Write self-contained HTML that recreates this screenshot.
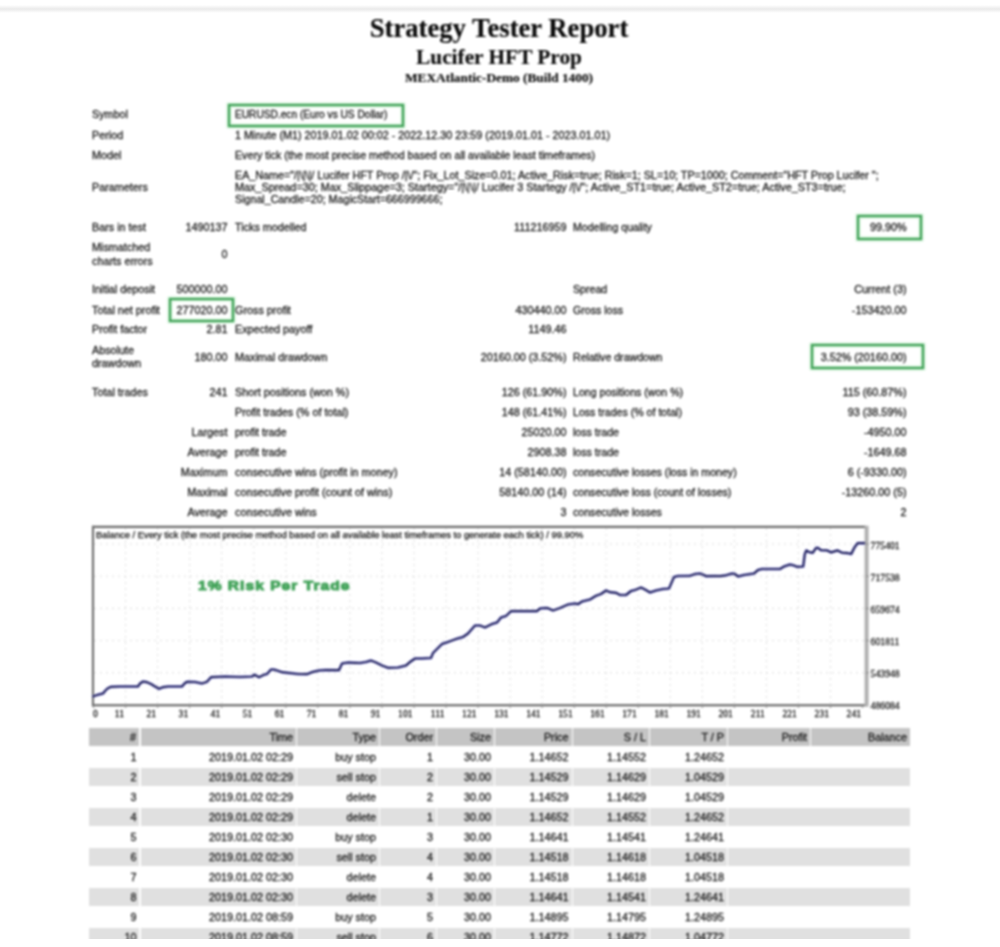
<!DOCTYPE html>
<html><head><meta charset="utf-8"><title>Strategy Tester: Lucifer HFT Prop</title>
<style>
html,body{margin:0;padding:0;background:#fff;}
body{width:1000px;height:947px;position:relative;overflow:hidden;font-family:"Liberation Sans",sans-serif;}
#wrap{position:absolute;left:0;top:0;width:1000px;height:947px;filter:blur(1px);}
.t{position:absolute;white-space:nowrap;line-height:13px;height:13px;color:#151515;-webkit-text-stroke:0.28px #151515;}
.bar{position:absolute;left:0;width:1000px;top:5.2px;height:7.6px;background:linear-gradient(to bottom,rgba(232,232,232,0) 0%,#ececec 45%,#ececec 55%,rgba(232,232,232,0) 100%);}
.h{position:absolute;left:0;width:1000px;text-align:center;font-family:"Liberation Serif",serif;font-weight:bold;color:#0a0a0a;white-space:nowrap;-webkit-text-stroke:0.15px #0a0a0a;}
.box{position:absolute;border:2.4px solid #3a9d52;box-sizing:border-box;box-shadow:0 0 1.5px 1px rgba(110,205,130,0.55),inset 0 0 1.5px 1px rgba(110,205,130,0.55);}
.cell{position:absolute;}
.cut{position:absolute;left:0;top:939px;width:1000px;height:8px;background:#fff;}
</style></head><body>
<div class="bar"></div>
<svg style="position:absolute;left:0;top:0;filter:blur(1px)" width="1000" height="947" viewBox="0 0 1000 947">
<line x1="125.6" y1="528" x2="125.6" y2="704" stroke="#dcdcdc" stroke-width="1" stroke-dasharray="2,4"/>
<line x1="157.6" y1="528" x2="157.6" y2="704" stroke="#dcdcdc" stroke-width="1" stroke-dasharray="2,4"/>
<line x1="189.7" y1="528" x2="189.7" y2="704" stroke="#dcdcdc" stroke-width="1" stroke-dasharray="2,4"/>
<line x1="221.7" y1="528" x2="221.7" y2="704" stroke="#dcdcdc" stroke-width="1" stroke-dasharray="2,4"/>
<line x1="253.8" y1="528" x2="253.8" y2="704" stroke="#dcdcdc" stroke-width="1" stroke-dasharray="2,4"/>
<line x1="285.8" y1="528" x2="285.8" y2="704" stroke="#dcdcdc" stroke-width="1" stroke-dasharray="2,4"/>
<line x1="317.8" y1="528" x2="317.8" y2="704" stroke="#dcdcdc" stroke-width="1" stroke-dasharray="2,4"/>
<line x1="349.9" y1="528" x2="349.9" y2="704" stroke="#dcdcdc" stroke-width="1" stroke-dasharray="2,4"/>
<line x1="381.9" y1="528" x2="381.9" y2="704" stroke="#dcdcdc" stroke-width="1" stroke-dasharray="2,4"/>
<line x1="414.0" y1="528" x2="414.0" y2="704" stroke="#dcdcdc" stroke-width="1" stroke-dasharray="2,4"/>
<line x1="446.0" y1="528" x2="446.0" y2="704" stroke="#dcdcdc" stroke-width="1" stroke-dasharray="2,4"/>
<line x1="478.0" y1="528" x2="478.0" y2="704" stroke="#dcdcdc" stroke-width="1" stroke-dasharray="2,4"/>
<line x1="510.1" y1="528" x2="510.1" y2="704" stroke="#dcdcdc" stroke-width="1" stroke-dasharray="2,4"/>
<line x1="542.1" y1="528" x2="542.1" y2="704" stroke="#dcdcdc" stroke-width="1" stroke-dasharray="2,4"/>
<line x1="574.2" y1="528" x2="574.2" y2="704" stroke="#dcdcdc" stroke-width="1" stroke-dasharray="2,4"/>
<line x1="606.2" y1="528" x2="606.2" y2="704" stroke="#dcdcdc" stroke-width="1" stroke-dasharray="2,4"/>
<line x1="638.2" y1="528" x2="638.2" y2="704" stroke="#dcdcdc" stroke-width="1" stroke-dasharray="2,4"/>
<line x1="670.3" y1="528" x2="670.3" y2="704" stroke="#dcdcdc" stroke-width="1" stroke-dasharray="2,4"/>
<line x1="702.3" y1="528" x2="702.3" y2="704" stroke="#dcdcdc" stroke-width="1" stroke-dasharray="2,4"/>
<line x1="734.4" y1="528" x2="734.4" y2="704" stroke="#dcdcdc" stroke-width="1" stroke-dasharray="2,4"/>
<line x1="766.4" y1="528" x2="766.4" y2="704" stroke="#dcdcdc" stroke-width="1" stroke-dasharray="2,4"/>
<line x1="798.4" y1="528" x2="798.4" y2="704" stroke="#dcdcdc" stroke-width="1" stroke-dasharray="2,4"/>
<line x1="830.5" y1="528" x2="830.5" y2="704" stroke="#dcdcdc" stroke-width="1" stroke-dasharray="2,4"/>
<line x1="94" y1="544" x2="865" y2="544" stroke="#dcdcdc" stroke-width="1" stroke-dasharray="2,4"/>
<line x1="94" y1="576.2" x2="865" y2="576.2" stroke="#dcdcdc" stroke-width="1" stroke-dasharray="2,4"/>
<line x1="94" y1="608.4" x2="865" y2="608.4" stroke="#dcdcdc" stroke-width="1" stroke-dasharray="2,4"/>
<line x1="94" y1="640.6" x2="865" y2="640.6" stroke="#dcdcdc" stroke-width="1" stroke-dasharray="2,4"/>
<line x1="94" y1="672.8" x2="865" y2="672.8" stroke="#dcdcdc" stroke-width="1" stroke-dasharray="2,4"/>
<line x1="93" y1="525.8" x2="93" y2="706.4" stroke="#6a6a6a" stroke-width="2.1"/>
<line x1="92" y1="526.9" x2="866" y2="526.9" stroke="#6a6a6a" stroke-width="2.1"/>
<line x1="92" y1="705.3" x2="868" y2="705.3" stroke="#5e5e5e" stroke-width="2.1"/>
<line x1="866.6" y1="525.8" x2="866.6" y2="706.4" stroke="#b0b0b0" stroke-width="4"/>
<line x1="125.6" y1="705" x2="125.6" y2="708" stroke="#888" stroke-width="1"/>
<line x1="157.6" y1="705" x2="157.6" y2="708" stroke="#888" stroke-width="1"/>
<line x1="189.7" y1="705" x2="189.7" y2="708" stroke="#888" stroke-width="1"/>
<line x1="221.7" y1="705" x2="221.7" y2="708" stroke="#888" stroke-width="1"/>
<line x1="253.8" y1="705" x2="253.8" y2="708" stroke="#888" stroke-width="1"/>
<line x1="285.8" y1="705" x2="285.8" y2="708" stroke="#888" stroke-width="1"/>
<line x1="317.8" y1="705" x2="317.8" y2="708" stroke="#888" stroke-width="1"/>
<line x1="349.9" y1="705" x2="349.9" y2="708" stroke="#888" stroke-width="1"/>
<line x1="381.9" y1="705" x2="381.9" y2="708" stroke="#888" stroke-width="1"/>
<line x1="414.0" y1="705" x2="414.0" y2="708" stroke="#888" stroke-width="1"/>
<line x1="446.0" y1="705" x2="446.0" y2="708" stroke="#888" stroke-width="1"/>
<line x1="478.0" y1="705" x2="478.0" y2="708" stroke="#888" stroke-width="1"/>
<line x1="510.1" y1="705" x2="510.1" y2="708" stroke="#888" stroke-width="1"/>
<line x1="542.1" y1="705" x2="542.1" y2="708" stroke="#888" stroke-width="1"/>
<line x1="574.2" y1="705" x2="574.2" y2="708" stroke="#888" stroke-width="1"/>
<line x1="606.2" y1="705" x2="606.2" y2="708" stroke="#888" stroke-width="1"/>
<line x1="638.2" y1="705" x2="638.2" y2="708" stroke="#888" stroke-width="1"/>
<line x1="670.3" y1="705" x2="670.3" y2="708" stroke="#888" stroke-width="1"/>
<line x1="702.3" y1="705" x2="702.3" y2="708" stroke="#888" stroke-width="1"/>
<line x1="734.4" y1="705" x2="734.4" y2="708" stroke="#888" stroke-width="1"/>
<line x1="766.4" y1="705" x2="766.4" y2="708" stroke="#888" stroke-width="1"/>
<line x1="798.4" y1="705" x2="798.4" y2="708" stroke="#888" stroke-width="1"/>
<line x1="830.5" y1="705" x2="830.5" y2="708" stroke="#888" stroke-width="1"/>
<line x1="93.6" y1="705" x2="93.6" y2="708" stroke="#888" stroke-width="1"/>
<line x1="862.5" y1="705" x2="862.5" y2="708" stroke="#888" stroke-width="1"/>
<line x1="866" y1="544" x2="869" y2="544" stroke="#888" stroke-width="1"/>
<line x1="866" y1="576.2" x2="869" y2="576.2" stroke="#888" stroke-width="1"/>
<line x1="866" y1="608.4" x2="869" y2="608.4" stroke="#888" stroke-width="1"/>
<line x1="866" y1="640.6" x2="869" y2="640.6" stroke="#888" stroke-width="1"/>
<line x1="866" y1="672.8" x2="869" y2="672.8" stroke="#888" stroke-width="1"/>
<polyline points="92.5,697 93,696.5 97,695 103,693.5 105,691 107.5,688.5 111,686.8 120,686.5 138,686.5 140,683.5 143,681.5 147,682.2 151,684 155,686.5 159,688.8 163,687.2 168,686.5 182,686.5 184.5,683.5 187,681.8 195,682 202,683.5 207,681.8 211,677.2 225,676.5 240,677 252,676.5 254.5,674.8 259,677.2 264,674.8 267,674 271,669.5 273,669.5 275,669.8 282,672.2 298,674 307,674.2 312,672.2 319,670.5 326,670 339,670.2 342,663.5 348,662.5 355,662.8 360,663 366,662 371,660.5 376,662.5 382,665.5 388,667.8 398,667.5 406,665.5 410,662 415,658.5 422,658.5 431,658 433,653 437,649 442,644 448,642 456,639 463,637 468,633.5 475,625.5 480,625.5 485,627.5 492,624 497,622.5 501,617.5 506,616 511,611.2 537,611.2 540,608.5 546,608 548,608.2 553,610.5 560,608 568,604.5 575,603.5 578,604.2 582,601.5 590,599.5 596,595.8 601,594 606,590.5 610,592.2 616,592.8 620,595 626,595 631,591 635,590 641,587.5 645,589.5 650,592.5 656,590.5 663,589 669,588.5 671,584 674,577 678,576 690,575.8 695,574 700,573.5 704,575 706,576.2 715,576 720,576.1 726,575.3 732,573.5 735,574 738,576.5 744,575 754,573.5 758,570 762,569 780,569 784,566.5 790,564.5 794,565.5 797,566.8 803.2,566.5 804.8,554 806.4,550.4 808.8,552 812.8,552.8 816,548 818,547.8 820.8,550.2 827.2,550.4 831.2,552.4 833.6,551.6 837.6,550.4 841.6,552.6 848,553.2 851.2,554 854.4,547.6 857.6,543.2 865,543.2" fill="none" stroke="#9696e2" stroke-width="2.9" stroke-linejoin="round"/>
<polyline points="92.5,697 93,696.5 97,695 103,693.5 105,691 107.5,688.5 111,686.8 120,686.5 138,686.5 140,683.5 143,681.5 147,682.2 151,684 155,686.5 159,688.8 163,687.2 168,686.5 182,686.5 184.5,683.5 187,681.8 195,682 202,683.5 207,681.8 211,677.2 225,676.5 240,677 252,676.5 254.5,674.8 259,677.2 264,674.8 267,674 271,669.5 273,669.5 275,669.8 282,672.2 298,674 307,674.2 312,672.2 319,670.5 326,670 339,670.2 342,663.5 348,662.5 355,662.8 360,663 366,662 371,660.5 376,662.5 382,665.5 388,667.8 398,667.5 406,665.5 410,662 415,658.5 422,658.5 431,658 433,653 437,649 442,644 448,642 456,639 463,637 468,633.5 475,625.5 480,625.5 485,627.5 492,624 497,622.5 501,617.5 506,616 511,611.2 537,611.2 540,608.5 546,608 548,608.2 553,610.5 560,608 568,604.5 575,603.5 578,604.2 582,601.5 590,599.5 596,595.8 601,594 606,590.5 610,592.2 616,592.8 620,595 626,595 631,591 635,590 641,587.5 645,589.5 650,592.5 656,590.5 663,589 669,588.5 671,584 674,577 678,576 690,575.8 695,574 700,573.5 704,575 706,576.2 715,576 720,576.1 726,575.3 732,573.5 735,574 738,576.5 744,575 754,573.5 758,570 762,569 780,569 784,566.5 790,564.5 794,565.5 797,566.8 803.2,566.5 804.8,554 806.4,550.4 808.8,552 812.8,552.8 816,548 818,547.8 820.8,550.2 827.2,550.4 831.2,552.4 833.6,551.6 837.6,550.4 841.6,552.6 848,553.2 851.2,554 854.4,547.6 857.6,543.2 865,543.2" fill="none" stroke="#0c0c40" stroke-width="1.7" stroke-linejoin="round"/>
</svg>
<div id="wrap">
<div class="h" style="top:15.4px;font-size:26.67px;line-height:26.67px;left:-1px">Strategy Tester Report</div>
<div class="h" style="top:46.8px;font-size:21.33px;line-height:21.33px;left:-1px">Lucifer HFT Prop</div>
<div class="h" style="top:71.4px;font-size:13.33px;line-height:13.33px;left:-1px">MEXAtlantic-Demo (Build 1400)</div>

<div class="cell" style="left:89px;top:727.6px;width:50px;height:18.4px;background:#c4c4c4"></div>
<div class="cell" style="left:140.5px;top:727.6px;width:155.5px;height:18.4px;background:#c4c4c4"></div>
<div class="cell" style="left:297px;top:727.6px;width:82px;height:18.4px;background:#c4c4c4"></div>
<div class="cell" style="left:380px;top:727.6px;width:56px;height:18.4px;background:#c4c4c4"></div>
<div class="cell" style="left:437px;top:727.6px;width:57px;height:18.4px;background:#c4c4c4"></div>
<div class="cell" style="left:495px;top:727.6px;width:76.5px;height:18.4px;background:#c4c4c4"></div>
<div class="cell" style="left:572.5px;top:727.6px;width:76.5px;height:18.4px;background:#c4c4c4"></div>
<div class="cell" style="left:650px;top:727.6px;width:77px;height:18.4px;background:#c4c4c4"></div>
<div class="cell" style="left:728px;top:727.6px;width:82px;height:18.4px;background:#c4c4c4"></div>
<div class="cell" style="left:811px;top:727.6px;width:99px;height:18.4px;background:#c4c4c4"></div>
<div class="cell" style="left:89px;top:767.6px;width:50px;height:18.4px;background:#e0e0e0"></div>
<div class="cell" style="left:140.5px;top:767.6px;width:155.5px;height:18.4px;background:#e0e0e0"></div>
<div class="cell" style="left:297px;top:767.6px;width:82px;height:18.4px;background:#e0e0e0"></div>
<div class="cell" style="left:380px;top:767.6px;width:56px;height:18.4px;background:#e0e0e0"></div>
<div class="cell" style="left:437px;top:767.6px;width:57px;height:18.4px;background:#e0e0e0"></div>
<div class="cell" style="left:495px;top:767.6px;width:76.5px;height:18.4px;background:#e0e0e0"></div>
<div class="cell" style="left:572.5px;top:767.6px;width:76.5px;height:18.4px;background:#e0e0e0"></div>
<div class="cell" style="left:650px;top:767.6px;width:77px;height:18.4px;background:#e0e0e0"></div>
<div class="cell" style="left:728px;top:767.6px;width:182px;height:18.4px;background:#e0e0e0"></div>
<div class="cell" style="left:89px;top:807.6px;width:50px;height:18.4px;background:#e0e0e0"></div>
<div class="cell" style="left:140.5px;top:807.6px;width:155.5px;height:18.4px;background:#e0e0e0"></div>
<div class="cell" style="left:297px;top:807.6px;width:82px;height:18.4px;background:#e0e0e0"></div>
<div class="cell" style="left:380px;top:807.6px;width:56px;height:18.4px;background:#e0e0e0"></div>
<div class="cell" style="left:437px;top:807.6px;width:57px;height:18.4px;background:#e0e0e0"></div>
<div class="cell" style="left:495px;top:807.6px;width:76.5px;height:18.4px;background:#e0e0e0"></div>
<div class="cell" style="left:572.5px;top:807.6px;width:76.5px;height:18.4px;background:#e0e0e0"></div>
<div class="cell" style="left:650px;top:807.6px;width:77px;height:18.4px;background:#e0e0e0"></div>
<div class="cell" style="left:728px;top:807.6px;width:182px;height:18.4px;background:#e0e0e0"></div>
<div class="cell" style="left:89px;top:847.6px;width:50px;height:18.4px;background:#e0e0e0"></div>
<div class="cell" style="left:140.5px;top:847.6px;width:155.5px;height:18.4px;background:#e0e0e0"></div>
<div class="cell" style="left:297px;top:847.6px;width:82px;height:18.4px;background:#e0e0e0"></div>
<div class="cell" style="left:380px;top:847.6px;width:56px;height:18.4px;background:#e0e0e0"></div>
<div class="cell" style="left:437px;top:847.6px;width:57px;height:18.4px;background:#e0e0e0"></div>
<div class="cell" style="left:495px;top:847.6px;width:76.5px;height:18.4px;background:#e0e0e0"></div>
<div class="cell" style="left:572.5px;top:847.6px;width:76.5px;height:18.4px;background:#e0e0e0"></div>
<div class="cell" style="left:650px;top:847.6px;width:77px;height:18.4px;background:#e0e0e0"></div>
<div class="cell" style="left:728px;top:847.6px;width:182px;height:18.4px;background:#e0e0e0"></div>
<div class="cell" style="left:89px;top:887.6px;width:50px;height:18.4px;background:#e0e0e0"></div>
<div class="cell" style="left:140.5px;top:887.6px;width:155.5px;height:18.4px;background:#e0e0e0"></div>
<div class="cell" style="left:297px;top:887.6px;width:82px;height:18.4px;background:#e0e0e0"></div>
<div class="cell" style="left:380px;top:887.6px;width:56px;height:18.4px;background:#e0e0e0"></div>
<div class="cell" style="left:437px;top:887.6px;width:57px;height:18.4px;background:#e0e0e0"></div>
<div class="cell" style="left:495px;top:887.6px;width:76.5px;height:18.4px;background:#e0e0e0"></div>
<div class="cell" style="left:572.5px;top:887.6px;width:76.5px;height:18.4px;background:#e0e0e0"></div>
<div class="cell" style="left:650px;top:887.6px;width:77px;height:18.4px;background:#e0e0e0"></div>
<div class="cell" style="left:728px;top:887.6px;width:182px;height:18.4px;background:#e0e0e0"></div>
<div class="cell" style="left:89px;top:927.6px;width:50px;height:18.4px;background:#e0e0e0"></div>
<div class="cell" style="left:140.5px;top:927.6px;width:155.5px;height:18.4px;background:#e0e0e0"></div>
<div class="cell" style="left:297px;top:927.6px;width:82px;height:18.4px;background:#e0e0e0"></div>
<div class="cell" style="left:380px;top:927.6px;width:56px;height:18.4px;background:#e0e0e0"></div>
<div class="cell" style="left:437px;top:927.6px;width:57px;height:18.4px;background:#e0e0e0"></div>
<div class="cell" style="left:495px;top:927.6px;width:76.5px;height:18.4px;background:#e0e0e0"></div>
<div class="cell" style="left:572.5px;top:927.6px;width:76.5px;height:18.4px;background:#e0e0e0"></div>
<div class="cell" style="left:650px;top:927.6px;width:77px;height:18.4px;background:#e0e0e0"></div>
<div class="cell" style="left:728px;top:927.6px;width:182px;height:18.4px;background:#e0e0e0"></div>
<div class="t" style="left:92px;top:108.0px;font-size:10.8px;">Symbol</div>
<div class="t" style="left:235px;top:108.3px;font-size:10.17px;">EURUSD.ecn (Euro vs US Dollar)</div>
<div class="t" style="left:92px;top:128.5px;font-size:10.8px;">Period</div>
<div class="t" style="left:235px;top:128.5px;font-size:10.8px;">1 Minute (M1) 2019.01.02 00:02 - 2022.12.30 23:59 (2019.01.01 - 2023.01.01)</div>
<div class="t" style="left:92px;top:149.0px;font-size:10.8px;">Model</div>
<div class="t" style="left:235px;top:149.0px;font-size:10.68px;">Every tick (the most precise method based on all available least timeframes)</div>
<div class="t" style="left:92px;top:180.5px;font-size:10.8px;">Parameters</div>
<div class="t" style="left:235px;top:168.5px;font-size:10.74px;">EA_Name=&quot;/|\|\|/ Lucifer HFT Prop /|\/&quot;; Fix_Lot_Size=0.01; Active_Risk=true; Risk=1; SL=10; TP=1000; Comment=&quot;HFT Prop Lucifer &quot;; </div>
<div class="t" style="left:235px;top:181.0px;font-size:10.84px;">Max_Spread=30; Max_Slippage=3; Startegy=&quot;/|\|\|/ Lucifer 3 Startegy /|\/&quot;; Active_ST1=true; Active_ST2=true; Active_ST3=true;</div>
<div class="t" style="left:235px;top:193.0px;font-size:10.7px;">Signal_Candle=20; MagicStart=666999666;</div>
<div class="t" style="left:92px;top:221.0px;font-size:10.8px;">Bars in test</div>
<div class="t" style="right:772.5px;top:221.0px;font-size:10.8px;">1490137</div>
<div class="t" style="left:235px;top:221.0px;font-size:10.8px;">Ticks modelled</div>
<div class="t" style="right:433.5px;top:221.0px;font-size:10.8px;">111216959</div>
<div class="t" style="left:573px;top:221.0px;font-size:10.6px;">Modelling quality</div>
<div class="t" style="right:93.5px;top:221.0px;font-size:10.8px;">99.90%</div>
<div class="t" style="left:92px;top:241.0px;font-size:10.8px;">Mismatched</div>
<div class="t" style="left:92px;top:254.5px;font-size:10.8px;">charts errors</div>
<div class="t" style="right:772.5px;top:248.0px;font-size:10.8px;">0</div>
<div class="t" style="left:92px;top:283.0px;font-size:10.8px;">Initial deposit</div>
<div class="t" style="right:772.5px;top:283.0px;font-size:10.8px;">500000.00</div>
<div class="t" style="left:573px;top:283.0px;font-size:10.6px;">Spread</div>
<div class="t" style="right:93.5px;top:283.0px;font-size:10.8px;">Current (3)</div>
<div class="t" style="left:92px;top:303.8px;font-size:10.8px;">Total net profit</div>
<div class="t" style="right:772.5px;top:303.8px;font-size:10.8px;">277020.00</div>
<div class="t" style="left:235px;top:303.8px;font-size:10.8px;">Gross profit</div>
<div class="t" style="right:433.5px;top:303.8px;font-size:10.8px;">430440.00</div>
<div class="t" style="left:573px;top:303.8px;font-size:10.6px;">Gross loss</div>
<div class="t" style="right:93.5px;top:303.8px;font-size:10.8px;">-153420.00</div>
<div class="t" style="left:92px;top:323.0px;font-size:10.8px;">Profit factor</div>
<div class="t" style="right:772.5px;top:323.0px;font-size:10.8px;">2.81</div>
<div class="t" style="left:235px;top:323.0px;font-size:10.8px;">Expected payoff</div>
<div class="t" style="right:433.5px;top:323.0px;font-size:10.8px;">1149.46</div>
<div class="t" style="left:92px;top:343.5px;font-size:10.8px;">Absolute</div>
<div class="t" style="left:92px;top:356.5px;font-size:10.8px;">drawdown</div>
<div class="t" style="right:772.5px;top:350.5px;font-size:10.8px;">180.00</div>
<div class="t" style="left:235px;top:350.5px;font-size:10.8px;">Maximal drawdown</div>
<div class="t" style="right:433.5px;top:350.5px;font-size:10.8px;">20160.00 (3.52%)</div>
<div class="t" style="left:573px;top:350.5px;font-size:10.6px;">Relative drawdown</div>
<div class="t" style="right:93.5px;top:350.5px;font-size:10.8px;">3.52% (20160.00)</div>
<div class="t" style="left:92px;top:385.5px;font-size:10.8px;">Total trades</div>
<div class="t" style="right:772.5px;top:385.5px;font-size:10.8px;">241</div>
<div class="t" style="left:235px;top:385.5px;font-size:10.8px;">Short positions (won %)</div>
<div class="t" style="right:433.5px;top:385.5px;font-size:10.8px;">126 (61.90%)</div>
<div class="t" style="left:573px;top:385.5px;font-size:10.6px;">Long positions (won %)</div>
<div class="t" style="right:93.5px;top:385.5px;font-size:10.8px;">115 (60.87%)</div>
<div class="t" style="left:235px;top:405.5px;font-size:10.8px;">Profit trades (% of total)</div>
<div class="t" style="right:433.5px;top:405.5px;font-size:10.8px;">148 (61.41%)</div>
<div class="t" style="left:573px;top:405.5px;font-size:10.6px;">Loss trades (% of total)</div>
<div class="t" style="right:93.5px;top:405.5px;font-size:10.8px;">93 (38.59%)</div>
<div class="t" style="right:772.5px;top:426.0px;font-size:10.8px;">Largest</div>
<div class="t" style="left:235px;top:426.0px;font-size:10.8px;">profit trade</div>
<div class="t" style="right:433.5px;top:426.0px;font-size:10.8px;">25020.00</div>
<div class="t" style="left:573px;top:426.0px;font-size:10.6px;">loss trade</div>
<div class="t" style="right:93.5px;top:426.0px;font-size:10.8px;">-4950.00</div>
<div class="t" style="right:772.5px;top:446.0px;font-size:10.8px;">Average</div>
<div class="t" style="left:235px;top:446.0px;font-size:10.8px;">profit trade</div>
<div class="t" style="right:433.5px;top:446.0px;font-size:10.8px;">2908.38</div>
<div class="t" style="left:573px;top:446.0px;font-size:10.6px;">loss trade</div>
<div class="t" style="right:93.5px;top:446.0px;font-size:10.8px;">-1649.68</div>
<div class="t" style="right:772.5px;top:466.0px;font-size:10.8px;">Maximum</div>
<div class="t" style="left:235px;top:466.0px;font-size:10.8px;">consecutive wins (profit in money)</div>
<div class="t" style="right:433.5px;top:466.0px;font-size:10.8px;">14 (58140.00)</div>
<div class="t" style="left:573px;top:466.0px;font-size:10.6px;">consecutive losses (loss in money)</div>
<div class="t" style="right:93.5px;top:466.0px;font-size:10.8px;">6 (-9330.00)</div>
<div class="t" style="right:772.5px;top:486.0px;font-size:10.8px;">Maximal</div>
<div class="t" style="left:235px;top:486.0px;font-size:10.8px;">consecutive profit (count of wins)</div>
<div class="t" style="right:433.5px;top:486.0px;font-size:10.8px;">58140.00 (14)</div>
<div class="t" style="left:573px;top:486.0px;font-size:10.6px;">consecutive loss (count of losses)</div>
<div class="t" style="right:93.5px;top:486.0px;font-size:10.8px;">-13260.00 (5)</div>
<div class="t" style="right:772.5px;top:506.0px;font-size:10.8px;">Average</div>
<div class="t" style="left:235px;top:506.0px;font-size:10.8px;">consecutive wins</div>
<div class="t" style="right:433.5px;top:506.0px;font-size:10.8px;">3</div>
<div class="t" style="left:573px;top:506.0px;font-size:10.6px;">consecutive losses</div>
<div class="t" style="right:93.5px;top:506.0px;font-size:10.8px;">2</div>
<div class="t" style="right:864px;top:730.6px;font-size:10.8px;">#</div>
<div class="t" style="right:707px;top:730.6px;font-size:10.8px;">Time</div>
<div class="t" style="right:624px;top:730.6px;font-size:10.8px;">Type</div>
<div class="t" style="right:567px;top:730.6px;font-size:10.8px;">Order</div>
<div class="t" style="right:509px;top:730.6px;font-size:10.8px;">Size</div>
<div class="t" style="right:431.5px;top:730.6px;font-size:10.8px;">Price</div>
<div class="t" style="right:354px;top:730.6px;font-size:10.8px;">S / L</div>
<div class="t" style="right:276px;top:730.6px;font-size:10.8px;">T / P</div>
<div class="t" style="right:193px;top:730.6px;font-size:10.8px;">Profit</div>
<div class="t" style="right:93px;top:730.6px;font-size:10.8px;">Balance</div>
<div class="t" style="right:863.5px;top:751.3000000000001px;font-size:10.8px;">1</div>
<div class="t" style="right:707px;top:751.3000000000001px;font-size:10.8px;">2019.01.02 02:29</div>
<div class="t" style="right:624px;top:751.3000000000001px;font-size:10.8px;">buy stop</div>
<div class="t" style="right:567px;top:751.3000000000001px;font-size:10.8px;">1</div>
<div class="t" style="right:509px;top:751.3000000000001px;font-size:10.8px;">30.00</div>
<div class="t" style="right:431.5px;top:751.3000000000001px;font-size:10.8px;">1.14652</div>
<div class="t" style="right:354px;top:751.3000000000001px;font-size:10.8px;">1.14552</div>
<div class="t" style="right:276px;top:751.3000000000001px;font-size:10.8px;">1.24652</div>
<div class="t" style="right:863.5px;top:771.3000000000001px;font-size:10.8px;">2</div>
<div class="t" style="right:707px;top:771.3000000000001px;font-size:10.8px;">2019.01.02 02:29</div>
<div class="t" style="right:624px;top:771.3000000000001px;font-size:10.8px;">sell stop</div>
<div class="t" style="right:567px;top:771.3000000000001px;font-size:10.8px;">2</div>
<div class="t" style="right:509px;top:771.3000000000001px;font-size:10.8px;">30.00</div>
<div class="t" style="right:431.5px;top:771.3000000000001px;font-size:10.8px;">1.14529</div>
<div class="t" style="right:354px;top:771.3000000000001px;font-size:10.8px;">1.14629</div>
<div class="t" style="right:276px;top:771.3000000000001px;font-size:10.8px;">1.04529</div>
<div class="t" style="right:863.5px;top:791.3000000000001px;font-size:10.8px;">3</div>
<div class="t" style="right:707px;top:791.3000000000001px;font-size:10.8px;">2019.01.02 02:29</div>
<div class="t" style="right:624px;top:791.3000000000001px;font-size:10.8px;">delete</div>
<div class="t" style="right:567px;top:791.3000000000001px;font-size:10.8px;">2</div>
<div class="t" style="right:509px;top:791.3000000000001px;font-size:10.8px;">30.00</div>
<div class="t" style="right:431.5px;top:791.3000000000001px;font-size:10.8px;">1.14529</div>
<div class="t" style="right:354px;top:791.3000000000001px;font-size:10.8px;">1.14629</div>
<div class="t" style="right:276px;top:791.3000000000001px;font-size:10.8px;">1.04529</div>
<div class="t" style="right:863.5px;top:811.3000000000001px;font-size:10.8px;">4</div>
<div class="t" style="right:707px;top:811.3000000000001px;font-size:10.8px;">2019.01.02 02:29</div>
<div class="t" style="right:624px;top:811.3000000000001px;font-size:10.8px;">delete</div>
<div class="t" style="right:567px;top:811.3000000000001px;font-size:10.8px;">1</div>
<div class="t" style="right:509px;top:811.3000000000001px;font-size:10.8px;">30.00</div>
<div class="t" style="right:431.5px;top:811.3000000000001px;font-size:10.8px;">1.14652</div>
<div class="t" style="right:354px;top:811.3000000000001px;font-size:10.8px;">1.14552</div>
<div class="t" style="right:276px;top:811.3000000000001px;font-size:10.8px;">1.24652</div>
<div class="t" style="right:863.5px;top:831.3000000000001px;font-size:10.8px;">5</div>
<div class="t" style="right:707px;top:831.3000000000001px;font-size:10.8px;">2019.01.02 02:30</div>
<div class="t" style="right:624px;top:831.3000000000001px;font-size:10.8px;">buy stop</div>
<div class="t" style="right:567px;top:831.3000000000001px;font-size:10.8px;">3</div>
<div class="t" style="right:509px;top:831.3000000000001px;font-size:10.8px;">30.00</div>
<div class="t" style="right:431.5px;top:831.3000000000001px;font-size:10.8px;">1.14641</div>
<div class="t" style="right:354px;top:831.3000000000001px;font-size:10.8px;">1.14541</div>
<div class="t" style="right:276px;top:831.3000000000001px;font-size:10.8px;">1.24641</div>
<div class="t" style="right:863.5px;top:851.3000000000001px;font-size:10.8px;">6</div>
<div class="t" style="right:707px;top:851.3000000000001px;font-size:10.8px;">2019.01.02 02:30</div>
<div class="t" style="right:624px;top:851.3000000000001px;font-size:10.8px;">sell stop</div>
<div class="t" style="right:567px;top:851.3000000000001px;font-size:10.8px;">4</div>
<div class="t" style="right:509px;top:851.3000000000001px;font-size:10.8px;">30.00</div>
<div class="t" style="right:431.5px;top:851.3000000000001px;font-size:10.8px;">1.14518</div>
<div class="t" style="right:354px;top:851.3000000000001px;font-size:10.8px;">1.14618</div>
<div class="t" style="right:276px;top:851.3000000000001px;font-size:10.8px;">1.04518</div>
<div class="t" style="right:863.5px;top:871.3000000000001px;font-size:10.8px;">7</div>
<div class="t" style="right:707px;top:871.3000000000001px;font-size:10.8px;">2019.01.02 02:30</div>
<div class="t" style="right:624px;top:871.3000000000001px;font-size:10.8px;">delete</div>
<div class="t" style="right:567px;top:871.3000000000001px;font-size:10.8px;">4</div>
<div class="t" style="right:509px;top:871.3000000000001px;font-size:10.8px;">30.00</div>
<div class="t" style="right:431.5px;top:871.3000000000001px;font-size:10.8px;">1.14518</div>
<div class="t" style="right:354px;top:871.3000000000001px;font-size:10.8px;">1.14618</div>
<div class="t" style="right:276px;top:871.3000000000001px;font-size:10.8px;">1.04518</div>
<div class="t" style="right:863.5px;top:891.3000000000001px;font-size:10.8px;">8</div>
<div class="t" style="right:707px;top:891.3000000000001px;font-size:10.8px;">2019.01.02 02:30</div>
<div class="t" style="right:624px;top:891.3000000000001px;font-size:10.8px;">delete</div>
<div class="t" style="right:567px;top:891.3000000000001px;font-size:10.8px;">3</div>
<div class="t" style="right:509px;top:891.3000000000001px;font-size:10.8px;">30.00</div>
<div class="t" style="right:431.5px;top:891.3000000000001px;font-size:10.8px;">1.14641</div>
<div class="t" style="right:354px;top:891.3000000000001px;font-size:10.8px;">1.14541</div>
<div class="t" style="right:276px;top:891.3000000000001px;font-size:10.8px;">1.24641</div>
<div class="t" style="right:863.5px;top:911.3000000000001px;font-size:10.8px;">9</div>
<div class="t" style="right:707px;top:911.3000000000001px;font-size:10.8px;">2019.01.02 08:59</div>
<div class="t" style="right:624px;top:911.3000000000001px;font-size:10.8px;">buy stop</div>
<div class="t" style="right:567px;top:911.3000000000001px;font-size:10.8px;">5</div>
<div class="t" style="right:509px;top:911.3000000000001px;font-size:10.8px;">30.00</div>
<div class="t" style="right:431.5px;top:911.3000000000001px;font-size:10.8px;">1.14895</div>
<div class="t" style="right:354px;top:911.3000000000001px;font-size:10.8px;">1.14795</div>
<div class="t" style="right:276px;top:911.3000000000001px;font-size:10.8px;">1.24895</div>
<div class="t" style="right:863.5px;top:931.3000000000001px;font-size:10.8px;">10</div>
<div class="t" style="right:707px;top:931.3000000000001px;font-size:10.8px;">2019.01.02 08:59</div>
<div class="t" style="right:624px;top:931.3000000000001px;font-size:10.8px;">sell stop</div>
<div class="t" style="right:567px;top:931.3000000000001px;font-size:10.8px;">6</div>
<div class="t" style="right:509px;top:931.3000000000001px;font-size:10.8px;">30.00</div>
<div class="t" style="right:431.5px;top:931.3000000000001px;font-size:10.8px;">1.14772</div>
<div class="t" style="right:354px;top:931.3000000000001px;font-size:10.8px;">1.14872</div>
<div class="t" style="right:276px;top:931.3000000000001px;font-size:10.8px;">1.04772</div>
<div class="box" style="left:227.5px;top:104px;width:176px;height:23px"></div>
<div class="box" style="left:857px;top:215px;width:65px;height:25px"></div>
<div class="box" style="left:169px;top:297.5px;width:65px;height:24px"></div>
<div class="box" style="left:810.5px;top:343.5px;width:113.5px;height:25.5px"></div>
<div class="t" style="left:96px;top:529px;font-size:9.4px;line-height:12px;color:#111;-webkit-text-stroke:0.25px #111">Balance / Every tick (the most precise method based on all available least timeframes to generate each tick) / 99.90%</div>
<div class="t" style="left:197.5px;top:578.6px;font-size:13px;line-height:13px;height:13px;font-weight:bold;color:#43a35a;letter-spacing:0.9px;-webkit-text-stroke:1px #43a35a;transform:scaleX(1.19);transform-origin:0 0">1% Risk Per Trade</div>
<div class="t" style="left:870.6px;top:538.8px;font-size:9.7px;font-family:'Liberation Serif',serif;color:#222;-webkit-text-stroke:0.3px #222">775401</div>
<div class="t" style="left:870.6px;top:570.9px;font-size:9.7px;font-family:'Liberation Serif',serif;color:#222;-webkit-text-stroke:0.3px #222">717538</div>
<div class="t" style="left:870.6px;top:602.8px;font-size:9.7px;font-family:'Liberation Serif',serif;color:#222;-webkit-text-stroke:0.3px #222">659674</div>
<div class="t" style="left:870.6px;top:634.8px;font-size:9.7px;font-family:'Liberation Serif',serif;color:#222;-webkit-text-stroke:0.3px #222">601811</div>
<div class="t" style="left:870.6px;top:666.9px;font-size:9.7px;font-family:'Liberation Serif',serif;color:#222;-webkit-text-stroke:0.3px #222">543948</div>
<div class="t" style="left:870.6px;top:698.9px;font-size:9.7px;font-family:'Liberation Serif',serif;color:#222;-webkit-text-stroke:0.3px #222">486084</div>
<div class="t" style="left:93px;top:707.3px;font-size:9.6px;font-family:'Liberation Serif',serif;color:#222;-webkit-text-stroke:0.3px #222">0</div>
<div class="t" style="right:875.9px;top:707.3px;font-size:9.6px;font-family:'Liberation Serif',serif;color:#222;-webkit-text-stroke:0.3px #222">11</div>
<div class="t" style="right:843.9px;top:707.3px;font-size:9.6px;font-family:'Liberation Serif',serif;color:#222;-webkit-text-stroke:0.3px #222">21</div>
<div class="t" style="right:811.8px;top:707.3px;font-size:9.6px;font-family:'Liberation Serif',serif;color:#222;-webkit-text-stroke:0.3px #222">31</div>
<div class="t" style="right:779.8px;top:707.3px;font-size:9.6px;font-family:'Liberation Serif',serif;color:#222;-webkit-text-stroke:0.3px #222">41</div>
<div class="t" style="right:747.7px;top:707.3px;font-size:9.6px;font-family:'Liberation Serif',serif;color:#222;-webkit-text-stroke:0.3px #222">51</div>
<div class="t" style="right:715.7px;top:707.3px;font-size:9.6px;font-family:'Liberation Serif',serif;color:#222;-webkit-text-stroke:0.3px #222">61</div>
<div class="t" style="right:683.7px;top:707.3px;font-size:9.6px;font-family:'Liberation Serif',serif;color:#222;-webkit-text-stroke:0.3px #222">71</div>
<div class="t" style="right:651.6px;top:707.3px;font-size:9.6px;font-family:'Liberation Serif',serif;color:#222;-webkit-text-stroke:0.3px #222">81</div>
<div class="t" style="right:619.6px;top:707.3px;font-size:9.6px;font-family:'Liberation Serif',serif;color:#222;-webkit-text-stroke:0.3px #222">91</div>
<div class="t" style="right:587.5px;top:707.3px;font-size:9.6px;font-family:'Liberation Serif',serif;color:#222;-webkit-text-stroke:0.3px #222">101</div>
<div class="t" style="right:555.5px;top:707.3px;font-size:9.6px;font-family:'Liberation Serif',serif;color:#222;-webkit-text-stroke:0.3px #222">111</div>
<div class="t" style="right:523.5px;top:707.3px;font-size:9.6px;font-family:'Liberation Serif',serif;color:#222;-webkit-text-stroke:0.3px #222">121</div>
<div class="t" style="right:491.4px;top:707.3px;font-size:9.6px;font-family:'Liberation Serif',serif;color:#222;-webkit-text-stroke:0.3px #222">131</div>
<div class="t" style="right:459.4px;top:707.3px;font-size:9.6px;font-family:'Liberation Serif',serif;color:#222;-webkit-text-stroke:0.3px #222">141</div>
<div class="t" style="right:427.3px;top:707.3px;font-size:9.6px;font-family:'Liberation Serif',serif;color:#222;-webkit-text-stroke:0.3px #222">151</div>
<div class="t" style="right:395.3px;top:707.3px;font-size:9.6px;font-family:'Liberation Serif',serif;color:#222;-webkit-text-stroke:0.3px #222">161</div>
<div class="t" style="right:363.3px;top:707.3px;font-size:9.6px;font-family:'Liberation Serif',serif;color:#222;-webkit-text-stroke:0.3px #222">171</div>
<div class="t" style="right:331.2px;top:707.3px;font-size:9.6px;font-family:'Liberation Serif',serif;color:#222;-webkit-text-stroke:0.3px #222">181</div>
<div class="t" style="right:299.2px;top:707.3px;font-size:9.6px;font-family:'Liberation Serif',serif;color:#222;-webkit-text-stroke:0.3px #222">191</div>
<div class="t" style="right:267.1px;top:707.3px;font-size:9.6px;font-family:'Liberation Serif',serif;color:#222;-webkit-text-stroke:0.3px #222">201</div>
<div class="t" style="right:235.1px;top:707.3px;font-size:9.6px;font-family:'Liberation Serif',serif;color:#222;-webkit-text-stroke:0.3px #222">211</div>
<div class="t" style="right:203.1px;top:707.3px;font-size:9.6px;font-family:'Liberation Serif',serif;color:#222;-webkit-text-stroke:0.3px #222">221</div>
<div class="t" style="right:171.0px;top:707.3px;font-size:9.6px;font-family:'Liberation Serif',serif;color:#222;-webkit-text-stroke:0.3px #222">231</div>
<div class="t" style="right:139.0px;top:707.3px;font-size:9.6px;font-family:'Liberation Serif',serif;color:#222;-webkit-text-stroke:0.3px #222">241</div>
</div><div class="cut"></div></body></html>
